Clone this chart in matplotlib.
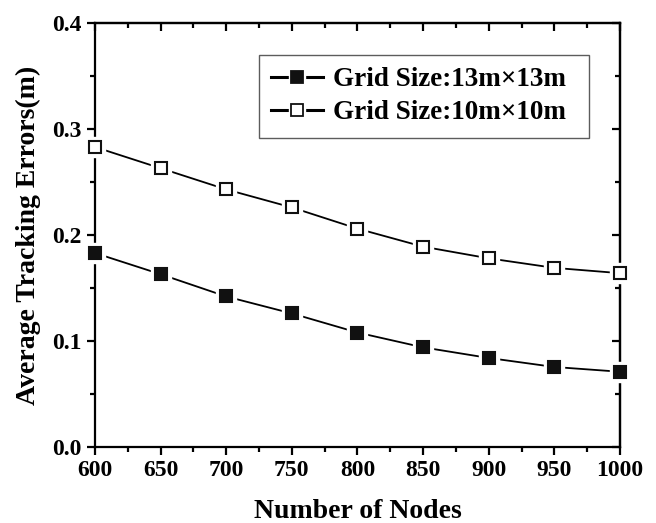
import matplotlib
matplotlib.use('Agg')
import matplotlib.pyplot as plt
from matplotlib.ticker import MultipleLocator
from matplotlib.legend_handler import HandlerTuple

plt.rcParams['font.family'] = ['Liberation Serif', 'DejaVu Serif']
plt.rcParams['font.weight'] = 'bold'

# Data
nodes = [600, 650, 700, 750, 800, 850, 900, 950, 1000]
err_13 = [0.183, 0.163, 0.142, 0.126, 0.108, 0.094, 0.084, 0.0755, 0.071]
err_10 = [0.283, 0.263, 0.243, 0.226, 0.206, 0.189, 0.178, 0.169, 0.164]
labels = ['Grid Size:13m\u00d713m', 'Grid Size:10m\u00d710m']

fig = plt.figure(figsize=(6.56, 5.23), dpi=100)
ax = fig.add_axes([0.1448, 0.1453, 0.8003, 0.8107])

ms = 9
handles = []
for ys, face in [(err_13, '#111111'), (err_10, 'white')]:
    ax.plot(nodes, ys, color='black', lw=1.3, zorder=2, clip_on=False)
    # white halo so the line stops short of each marker
    ax.plot(nodes, ys, ls='none', marker='s', ms=ms + 6, mfc='white', mec='white',
            zorder=3, clip_on=False)
    ax.plot(nodes, ys, ls='none', marker='s', ms=ms, mfc=face, mec='#111111',
            mew=1.5, zorder=4, clip_on=False)
    l1, = ax.plot([], [], color='black', lw=2.2)
    l2, = ax.plot([], [], ls='none', marker='s', ms=ms + 3, mfc='white', mec='white')
    l3, = ax.plot([], [], ls='none', marker='s', ms=ms - 1, mfc=face, mec='#111111', mew=1.3)
    handles.append((l1, l2, l3))

ax.set_xlim(600, 1000)
ax.set_ylim(0, 0.4)
ax.xaxis.set_major_locator(MultipleLocator(50))
ax.xaxis.set_minor_locator(MultipleLocator(25))
ax.yaxis.set_major_locator(MultipleLocator(0.1))
ax.yaxis.set_minor_locator(MultipleLocator(0.05))
ax.yaxis.set_major_formatter(plt.FormatStrFormatter('%.1f'))

for s in ax.spines.values():
    s.set_linewidth(1.6)
ax.tick_params(which='major', direction='out', length=6, width=1.6, labelsize=17)
ax.tick_params(which='minor', direction='out', length=3.5, width=1.6)

# mirror ticks on top and right pointing inward
top = ax.secondary_xaxis('top')
top.xaxis.set_major_locator(MultipleLocator(50))
top.xaxis.set_minor_locator(MultipleLocator(25))
top.tick_params(which='major', direction='in', length=6, width=1.6, labeltop=False)
top.tick_params(which='minor', direction='in', length=3.5, width=1.6)
right = ax.secondary_yaxis('right')
right.yaxis.set_major_locator(MultipleLocator(0.1))
right.yaxis.set_minor_locator(MultipleLocator(0.05))
right.tick_params(which='major', direction='in', length=6, width=1.6, labelright=False)
right.tick_params(which='minor', direction='in', length=3.5, width=1.6)
for a in (top, right):
    for s in a.spines.values():
        s.set_linewidth(1.6)

ax.set_xlabel('Number of Nodes', fontsize=20, fontweight='bold', labelpad=13)
ax.set_ylabel('Average Tracking Errors(m)', fontsize=20, fontweight='bold', labelpad=8)

leg = ax.legend(handles, labels, loc='upper left',
                bbox_to_anchor=(0.3124, 0.7335, 0.6286, 0.191), mode='expand',
                handler_map={tuple: HandlerTuple(ndivide=1, pad=0)},
                fontsize=19.5, frameon=True, fancybox=False, handlelength=1.9,
                handletextpad=0.4, borderpad=0.45, labelspacing=0.3,
                borderaxespad=0)
leg.get_frame().set_edgecolor('#333333')
leg.get_frame().set_linewidth(1.0)
for t in leg.get_texts():
    t.set_fontweight('bold')

fig.savefig('out.png', dpi=100)
